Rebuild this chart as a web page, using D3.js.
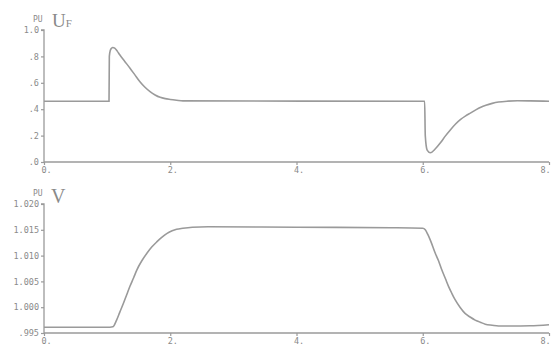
<!DOCTYPE html>
<html><head><meta charset="utf-8">
<script src="https://cdn.jsdelivr.net/npm/d3@7"></script>
<style>
html,body{margin:0;padding:0;background:#fff;}
svg{display:block;}
text{fill:#8a8a8a;}
</style></head>
<body><svg id="c" width="553" height="348"></svg>
<script>
// ---- data ----
const xTickValues = [0, 2, 4, 6, 8];
const xTickLabels = ["0.", "2.", "4.", "6.", "8."];
const ufTickValues = [1.0, 0.8, 0.6, 0.4, 0.2, 0.0];
const ufTickLabels = ["1.0", ".8", ".6", ".4", ".2", ".0"];
const vTickValues = [1.020, 1.015, 1.010, 1.005, 1.000, 0.995];
const vTickLabels = ["1.020", "1.015", "1.010", "1.005", "1.000", ".995"];

const ufTime = [0, 1.03, 1.035, 1.05, 1.07, 1.09, 1.12, 1.16, 1.20, 1.28, 1.36, 1.44, 1.52, 1.60, 1.68, 1.76, 1.84, 1.92, 2.0, 2.1, 2.2, 6.03, 6.04, 6.07, 6.12, 6.2, 6.28, 6.36, 6.44, 6.52, 6.6, 6.68, 6.76, 6.84, 6.92, 7.0, 7.1, 7.2, 7.35, 7.5, 7.7, 8.0];
const ufValue = [0.46, 0.46, 0.80, 0.845, 0.862, 0.867, 0.862, 0.840, 0.812, 0.762, 0.712, 0.66, 0.608, 0.566, 0.533, 0.508, 0.490, 0.480, 0.474, 0.468, 0.463, 0.46, 0.20, 0.09, 0.070, 0.10, 0.145, 0.198, 0.245, 0.288, 0.323, 0.350, 0.372, 0.395, 0.415, 0.430, 0.444, 0.454, 0.461, 0.464, 0.463, 0.46];

const vTime = [0, 1.0, 1.09, 1.15, 1.2, 1.26, 1.31, 1.36, 1.42, 1.47, 1.55, 1.63, 1.71, 1.79, 1.87, 1.95, 2.03, 2.1, 2.2, 2.35, 2.6, 4.0, 5.5, 6.0, 6.04, 6.08, 6.12, 6.2, 6.25, 6.3, 6.36, 6.41, 6.46, 6.51, 6.59, 6.67, 6.75, 6.83, 6.91, 6.99, 7.1, 7.2, 7.4, 7.7, 8.0];
const vValue = [0.9961, 0.9961, 0.9962, 0.9975, 0.9990, 1.0008, 1.0024, 1.0040, 1.0057, 1.0072, 1.0090, 1.01045, 1.0117, 1.0127, 1.0136, 1.0143, 1.0148, 1.0151, 1.0153, 1.0155, 1.0156, 1.0155, 1.0154, 1.0153, 1.0150, 1.0141, 1.0130, 1.0104, 1.0090, 1.0073, 1.0055, 1.0040, 1.0027, 1.0015, 1.0000, 0.9988, 0.9981, 0.9975, 0.9971, 0.9967, 0.9965, 0.99636, 0.99636, 0.9964, 0.9966];

// ---- drawing ----
const svg = d3.select("#c");
const grey = "#9a9a9a";
const x = d3.scaleLinear().domain([0, 8]).range([44, 549]);

function panel(cfg) {
  const y = d3.scaleLinear().domain(cfg.domain).range(cfg.range);
  const g = svg.append("g");
  // y axis
  const yAxis = d3.axisLeft(y).tickValues(cfg.ticks).tickSize(3).tickFormat((d, i) => cfg.labels[i]);
  const ya = g.append("g").attr("transform", "translate(44,0)").call(yAxis);
  ya.select(".domain").attr("stroke", grey).attr("stroke-width", 1.3).attr("d", `M-3,${cfg.range[1]}H0V${cfg.range[0]}`);
  ya.selectAll(".tick line").attr("stroke", grey).attr("stroke-width", 1.2);
  ya.selectAll(".tick text").attr("font-family", "DejaVu Sans Mono").attr("font-size", 8.5).attr("fill", "#8a8a8a").attr("x", -5);
  // x axis
  const xAxis = d3.axisBottom(x).tickValues(xTickValues).tickSize(3).tickFormat((d, i) => xTickLabels[i]);
  const xa = g.append("g").attr("transform", `translate(0,${cfg.range[0]})`).call(xAxis);
  xa.select(".domain").attr("stroke", grey).attr("stroke-width", 1.3).attr("d", `M44,0H549`);
  xa.selectAll(".tick line").attr("stroke", grey).attr("stroke-width", 1.2);
  xa.selectAll(".tick text").attr("font-family", "DejaVu Sans Mono").attr("font-size", 8.5).attr("fill", "#8a8a8a").attr("y", 5)
    .attr("text-anchor", "start").attr("dx", (d, i) => i === xTickValues.length - 1 ? -9 : -3);
  // line
  const line = d3.line().x((d) => x(d[0])).y((d) => y(d[1])).curve(d3.curveMonotoneX);
  g.append("path").datum(cfg.t.map((t, i) => [t, cfg.v[i]]))
    .attr("fill", "none").attr("stroke", grey).attr("stroke-width", 1.6).attr("d", line);
  // PU label
  g.append("text").attr("x", 33).attr("y", cfg.range[1] - 8).attr("font-family", "DejaVu Sans Mono").attr("font-size", 8).text("PU");
  return g;
}

const topPanel = panel({domain: [0, 1], range: [162, 30], ticks: ufTickValues, labels: ufTickLabels, t: ufTime, v: ufValue});
const botPanel = panel({domain: [0.995, 1.020], range: [333, 204], ticks: vTickValues, labels: vTickLabels, t: vTime, v: vValue});

const tU = topPanel.append("text").attr("x", 52).attr("y", 27).attr("font-family", "Liberation Serif").attr("font-size", 19);
tU.append("tspan").text("U");
tU.append("tspan").attr("font-size", 11).text("F");
botPanel.append("text").attr("x", 51).attr("y", 203).attr("font-family", "Liberation Serif").attr("font-size", 20).text("V");
</script></body></html>
